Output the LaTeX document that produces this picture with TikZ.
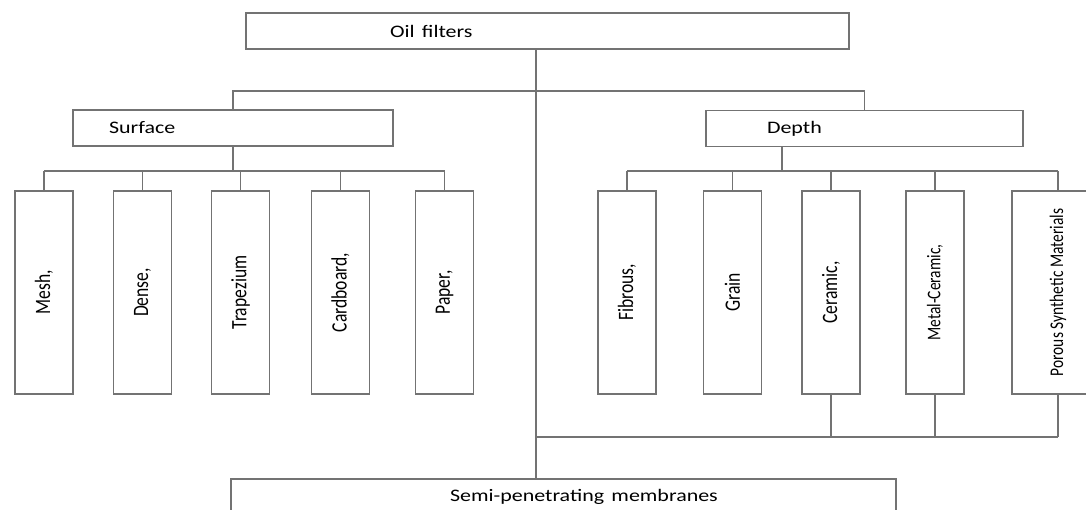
\documentclass[tikz,border=0pt]{standalone}
\usepackage{fontspec}
\setmainfont{Carlito}
\usepackage{graphicx}
\usepackage{tikz}
\usetikzlibrary{positioning}

\newcommand{\widetext}[1]{\scalebox{1.25}[1]{#1}}
\newcommand{\uptext}[1]{\rotatebox{90}{\scalebox{1}[1.25]{#1}}}

\begin{document}
\begin{tikzpicture}[
  x=0.02cm, y=-0.02cm,
  hbox/.style={draw=black!55, line width=0.8pt, inner xsep=0pt, align=left, minimum height=0.72cm, font=\fontsize{10}{12}\selectfont},
  vbox/.style={draw=black!55, line width=0.8pt, inner sep=0pt, minimum width=1.16cm, minimum height=4.06cm, font=\fontsize{10}{12}\selectfont},
  small/.style={font=\fontsize{8.8}{10}\selectfont},
  link/.style={draw=black!55, line width=0.8pt}
]
\useasboundingbox (0,0) rectangle (1086,510);

\node[hbox, text width=12.06cm] (oil) at (547.5,31) {\hspace*{2.88cm}\widetext{Oil filters}};
\node[hbox, text width=6.4cm] (surface) at (233,128) {\hspace*{0.72cm}\widetext{Surface}};
\node[hbox, text width=6.34cm] (depth) at (864.5,128.5) {\hspace*{1.22cm}\widetext{Depth}};
\node[hbox, text width=13.3cm] (semi) at (563.5,497) {\hspace*{4.38cm}\widetext{Semi-penetrating membranes}};

\node[vbox] (mesh) at (44,292.5) {\uptext{Mesh,}};
\node[vbox] (dense) at (142.5,292.5) {\uptext{Dense,}};
\node[vbox] (trapezium) at (240.5,292.5) {\uptext{Trapezium}};
\node[vbox] (cardboard) at (340.5,292.5) {\uptext{Cardboard,}};
\node[vbox] (paper) at (444.5,292.5) {\uptext{Paper,}};

\node[vbox] (fibrous) at (627,292.5) {\uptext{Fibrous,}};
\node[vbox] (grain) at (732.5,292.5) {\uptext{Grain}};
\node[vbox] (ceramic) at (831,292.5) {\uptext{Ceramic,}};
\node[vbox, small] (metal) at (935,292.5) {\uptext{Metal-Ceramic,}};
\node[vbox, small, minimum width=1.84cm] (porous) at (1058,292.5) {\uptext{Porous Synthetic Materials}};

\coordinate (trunk) at (536,0);
\coordinate (tbus) at (0,91);
\coordinate (sbus) at (234,171);
\coordinate (dbus) at (782,171);
\coordinate (bbus) at (536,437);

\draw[link] (oil.south -| trunk) -- (semi.north -| trunk);
\draw[link] (surface.north) -- (surface.north |- tbus) -- (depth.north |- tbus) -- (depth.north);

\draw[link] (surface.south) -- (surface.south |- sbus);
\draw[link] (mesh.north |- sbus) -- (paper.north |- sbus);
\foreach \n in {mesh,dense,trapezium,cardboard,paper}
  \draw[link] (\n.north) -- (\n.north |- sbus);

\draw[link] (depth.south -| dbus) -- (dbus);
\draw[link] (fibrous.north |- dbus) -- (porous.north |- dbus);
\foreach \n in {fibrous,grain,ceramic,metal,porous}
  \draw[link] (\n.north) -- (\n.north |- dbus);

\draw[link] (bbus) -- (porous.south |- bbus);
\foreach \n in {ceramic,metal,porous}
  \draw[link] (\n.south) -- (\n.south |- bbus);
\end{tikzpicture}
\end{document}
